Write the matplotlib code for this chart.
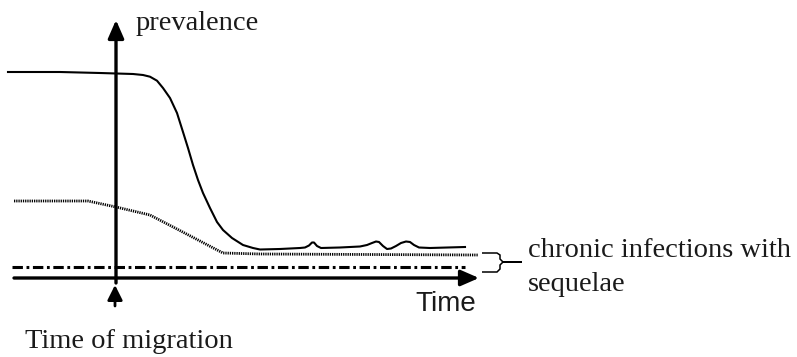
import matplotlib
matplotlib.use('Agg')
import matplotlib.pyplot as plt
from matplotlib.path import Path
from matplotlib.patches import PathPatch

plt.rcParams['lines.scale_dashes'] = False

# total prevalence (solid line), in picture units (x to the right, y downwards)
solid_x = [8, 60, 100, 133, 143, 150, 157, 163, 170, 177, 183, 188, 193, 198,
           203, 210, 217, 223, 232, 243, 253, 260, 280, 300, 305, 309, 312,
           314, 317, 321, 340, 360, 367, 372, 376, 379, 383, 387, 391, 396,
           401, 406, 410, 414, 419, 430, 465]
solid_y = [72, 72, 73, 74, 75, 76.7, 80.7, 88, 98, 113, 132, 148, 165, 180,
           193, 208, 222, 230, 238, 245, 248, 249.5, 249, 248, 247.5, 245.5,
           242.5, 242.5, 246, 248, 247.5, 246.5, 245, 243, 241.5, 242, 246,
           249, 248.5, 246, 243, 241.5, 242, 245, 247.5, 248, 247]

# dotted line
dot_x = [14, 88, 116, 150, 223, 260, 478]
dot_y = [201, 201, 207, 215, 253, 254, 255]

# chronic infections with sequelae (dash-dot, constant)
dashdot_x = [12, 465]
dashdot_y = [267, 267]

# brace next to the two lower lines
brace_x = [482, 497, 500, 500, 503, 522, 503, 500, 500, 497, 482]
brace_y = [253, 253, 255, 259, 262, 262, 262, 265, 269, 272, 272]

# axes
yaxis_x, yaxis_bottom, yaxis_top = 116, 283, 20
xaxis_y, xaxis_left, xaxis_right = 278, 14, 479
migration_x, migration_tip, migration_tail = 115, 285, 306

fig = plt.figure(figsize=(7.97, 3.57), dpi=100)
ax = fig.add_axes([0, 0, 1, 1])
ax.set_xlim(0, 797)
ax.set_ylim(357, 0)
ax.axis('off')

ax.plot(solid_x, solid_y, color='black', lw=1.5, solid_joinstyle='round')
ax.plot(dot_x, dot_y, color='black', lw=2.0, linestyle=(0, (0.9, 0.7)))
ax.plot(dashdot_x, dashdot_y, color='black', lw=2.2,
        linestyle=(0, (7.5, 2.6, 2.0, 2.6)))

verts = list(zip(brace_x, brace_y))
ax.add_patch(PathPatch(Path(verts), fill=False, lw=1.1, color='black'))

arrow = dict(arrowstyle='-|>,head_length=11,head_width=4.8', mutation_scale=1,
             color='black', lw=2.4, shrinkA=0, shrinkB=0)
ax.annotate('', xy=(yaxis_x, yaxis_top), xytext=(yaxis_x, yaxis_bottom),
            arrowprops=arrow)
ax.annotate('', xy=(xaxis_right, xaxis_y), xytext=(xaxis_left, xaxis_y),
            arrowprops=arrow)
small = dict(arrowstyle='-|>,head_length=9,head_width=4.5', mutation_scale=1,
             color='black', lw=2.0, shrinkA=0, shrinkB=0)
ax.annotate('', xy=(migration_x, migration_tip), xytext=(migration_x, migration_tail),
            arrowprops=small)

serif = dict(family='Liberation Serif', fontsize=20.5, color='#1a1a1a', va='baseline', ha='left')
ax.text(136, 30, 'prevalence', **serif)
ax.text(528, 257, 'chronic infections with', **serif)
ax.text(528, 291, 'sequelae', **serif)
ax.text(25, 348, 'Time of migration', **serif)
ax.text(415, 311, 'Time', family='Liberation Sans', fontsize=20, color='#1a1a1a',
        va='baseline', ha='left')

fig.savefig('out.png', dpi=100, facecolor='white')
